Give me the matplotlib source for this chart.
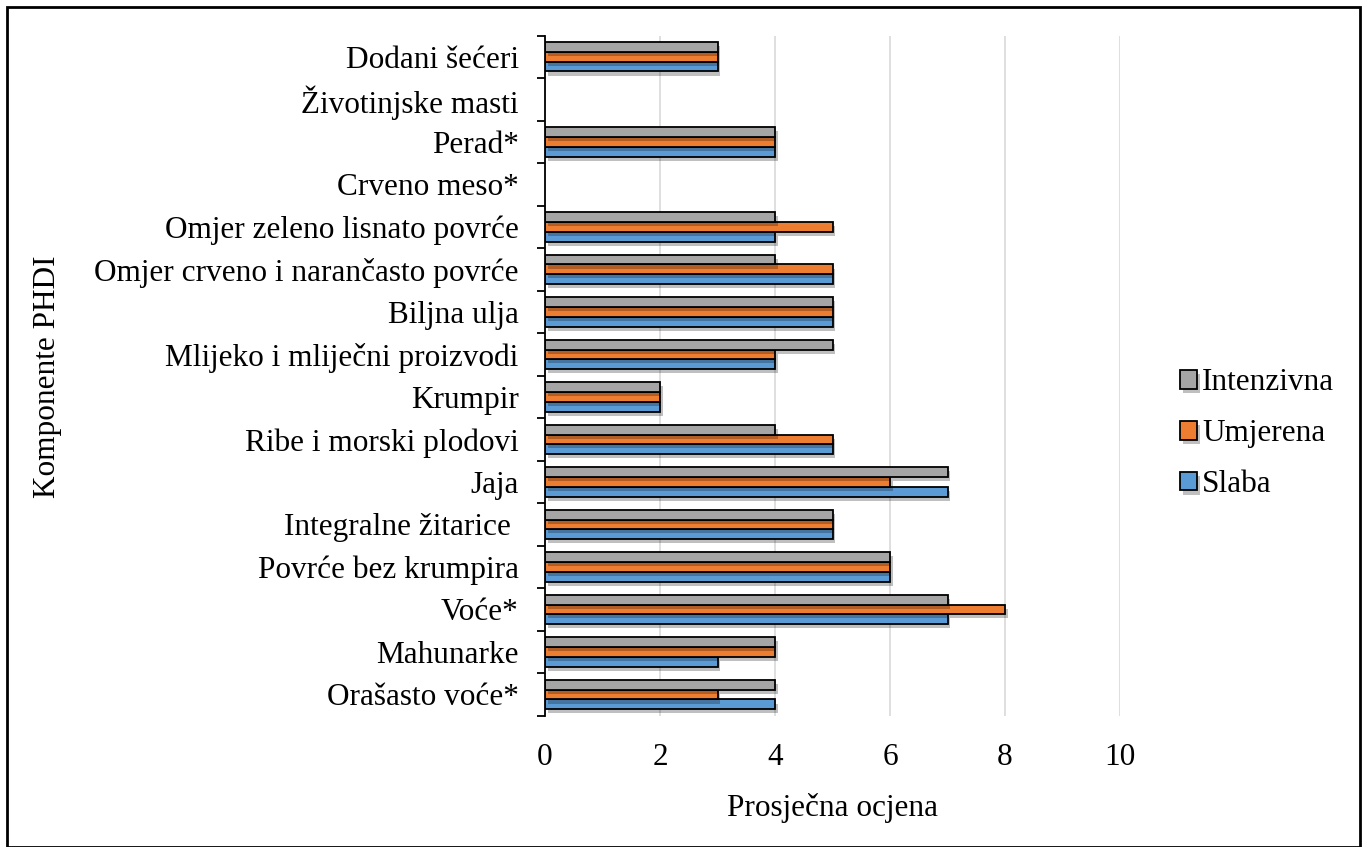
import numpy as np
import matplotlib.pyplot as plt
import matplotlib.patheffects as pe
from matplotlib.patches import Rectangle

plt.rcParams["font.family"] = ["Liberation Serif", "DejaVu Serif"]

# kategorije odozdo prema gore
kategorije = ["Orašasto voće*", "Mahunarke", "Voće*", "Povrće bez krumpira",
              "Integralne žitarice ", "Jaja", "Ribe i morski plodovi", "Krumpir",
              "Mlijeko i mliječni proizvodi", "Biljna ulja",
              "Omjer crveno i narančasto povrće", "Omjer zeleno lisnato povrće",
              "Crveno meso*", "Perad*", "Životinjske masti", "Dodani šećeri"]
slaba = [4, 3, 7, 6, 5, 7, 5, 2, 4, 5, 5, 4, 0, 4, 0, 3]
umjerena = [3, 4, 8, 6, 5, 6, 5, 2, 4, 5, 5, 5, 0, 4, 0, 3]
intenzivna = [4, 4, 7, 6, 5, 7, 4, 2, 5, 5, 4, 4, 0, 4, 0, 3]
x_ticks = [0, 2, 4, 6, 8, 10]

fs = 22.5
fig = plt.figure(figsize=(13.65, 8.47), dpi=100)
ax = fig.add_axes([0.3993, 0.155, 0.4212, 0.803])

y = np.arange(len(kategorije))
h = 0.23
sjena = [pe.SimplePatchShadow(offset=(2, -3), alpha=0.25, shadow_rgbFace="black"), pe.Normal()]
serije = [(slaba, "#5b9bd5", "Slaba", -h),
          (umjerena, "#ed7d31", "Umjerena", 0),
          (intenzivna, "#a5a5a5", "Intenzivna", h)]
for vals, boja, ime, pomak in serije:
    b = ax.barh(y + pomak, vals, height=h, color=boja, edgecolor="black",
                linewidth=1.3, label=ime, zorder=3)
    for p, v in zip(b, vals):
        if v == 0:
            p.set_visible(False)
        else:
            p.set_path_effects(sjena)

ax.set_xlim(0, 10)
ax.set_ylim(-0.5, len(kategorije) - 0.5)
ax.set_xticks(x_ticks)
ax.set_xticklabels([str(t) for t in x_ticks], fontsize=fs)
ax.set_yticks(y)
ax.set_yticklabels(kategorije, fontsize=fs)
ax.tick_params(axis="y", length=0, pad=19)
ax.tick_params(axis="x", length=0, pad=20)
ax.set_yticks(np.arange(-0.5, len(kategorije)), minor=True)
ax.tick_params(axis="y", which="minor", length=6, width=1.3, color="black")
ax.grid(axis="x", color="#d9d9d9", linewidth=1.2, zorder=0)
for s in ["top", "right", "bottom"]:
    ax.spines[s].set_visible(False)
ax.spines["left"].set_linewidth(1.3)
ax.spines["left"].set_zorder(4)

ax.set_xlabel("Prosječna ocjena", fontsize=fs, labelpad=15)
fig.text(0.035, 0.555, "Komponente PHDI", rotation=90, fontsize=fs,
         ha="center", va="center")

hnd, lab = ax.get_legend_handles_labels()
fig.legend(hnd[::-1], lab[::-1], loc="center left", bbox_to_anchor=(0.844, 0.488),
           frameon=False, fontsize=fs, handlelength=0.55, handleheight=0.55,
           handletextpad=0.15, labelspacing=0.7)

fig.patches.append(Rectangle((0.005, 0.0), 0.991, 0.992, transform=fig.transFigure,
                             fill=False, edgecolor="black", linewidth=2))

fig.savefig("out.png", dpi=100)
